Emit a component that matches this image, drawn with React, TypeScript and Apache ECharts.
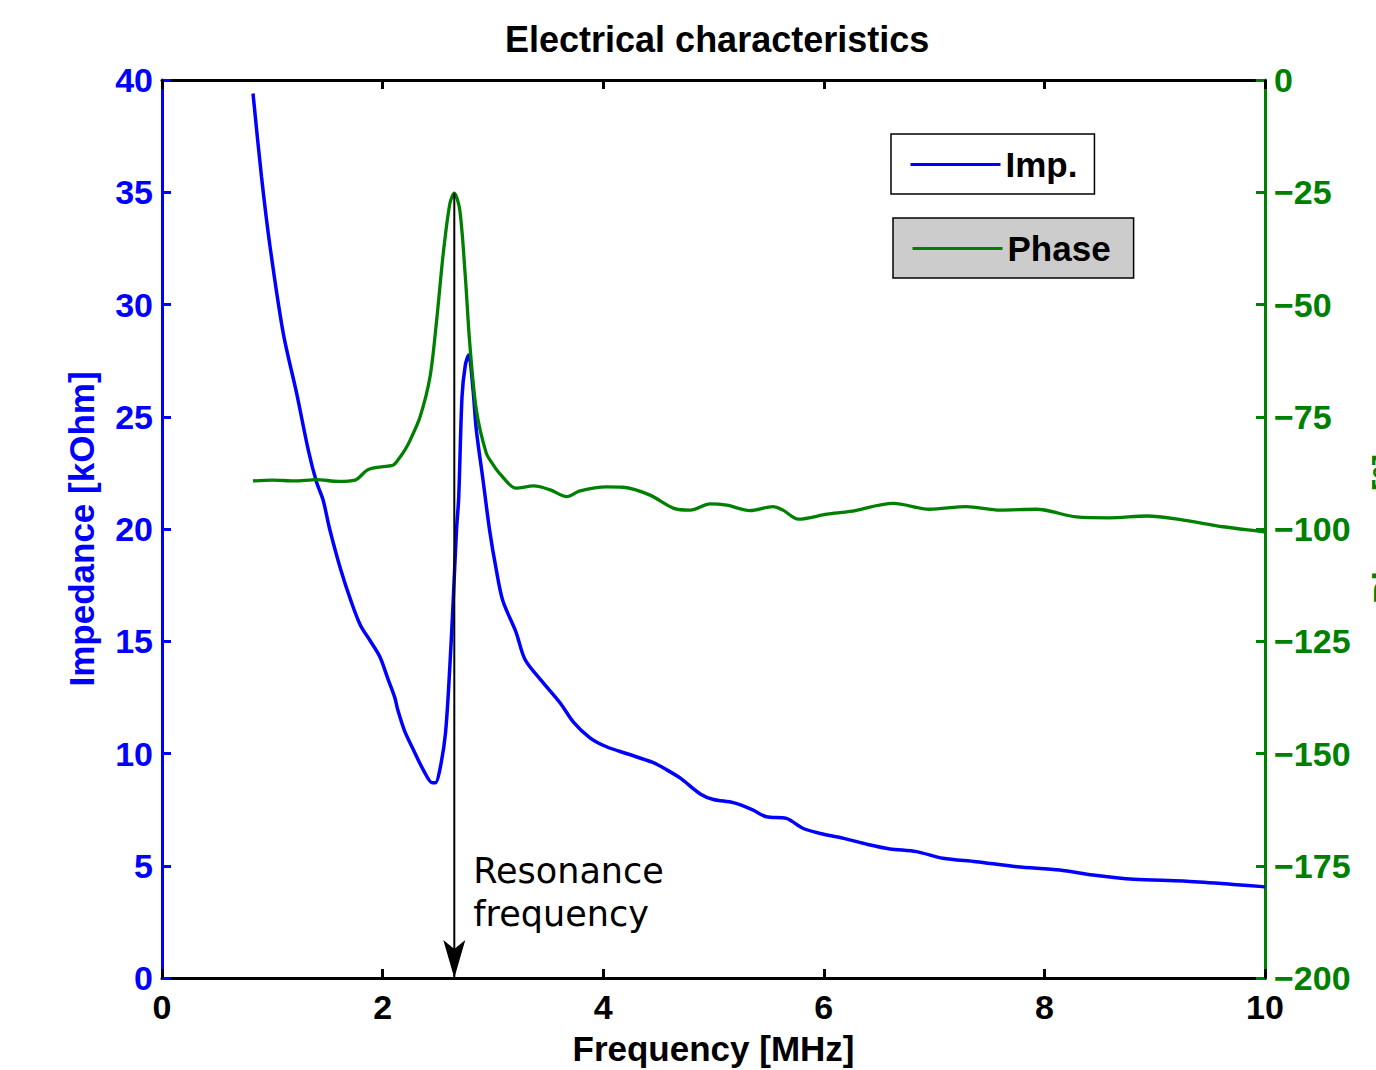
import React, { useEffect, useRef } from "react";
import * as echarts from "echarts";

const impFreq = [0.825, 0.902, 0.979, 1.1, 1.22, 1.327, 1.4, 1.46, 1.52, 1.62, 1.72, 1.8, 1.89, 1.976, 2.05, 2.11, 2.14, 2.2, 2.28, 2.37, 2.45, 2.48, 2.52, 2.57, 2.61, 2.64, 2.67, 2.69, 2.72, 2.75, 2.78, 2.82, 2.85, 2.91, 2.97, 3.03, 3.09, 3.21, 3.29, 3.43, 3.61, 3.73, 3.88, 4.03, 4.21, 4.45, 4.58, 4.7, 4.88, 5.0, 5.18, 5.35, 5.48, 5.66, 5.81, 6.0, 6.18, 6.4, 6.6, 6.84, 7.08, 7.38, 7.75, 8.14, 8.44, 8.81, 9.26, 9.71, 9.98, 10.0];
const impValue = [39.4, 35.7, 32.6, 28.7, 26.06, 23.5, 22.1, 21.3, 20.0, 18.2, 16.7, 15.7, 15.0, 14.3, 13.3, 12.5, 11.9, 11.0, 10.16, 9.26, 8.7, 8.7, 9.3, 10.9, 13.9, 16.8, 19.95, 21.4, 25.9, 27.3, 27.75, 26.2, 24.4, 22.2, 19.95, 18.2, 16.8, 15.4, 14.2, 13.3, 12.25, 11.4, 10.7, 10.3, 10.0, 9.6, 9.26, 8.9, 8.2, 7.95, 7.81, 7.5, 7.18, 7.11, 6.67, 6.4, 6.22, 5.95, 5.75, 5.63, 5.33, 5.18, 4.96, 4.81, 4.59, 4.4, 4.32, 4.17, 4.07, 4.05];

const phaseFreq = [0.825, 1.0, 1.2, 1.4, 1.6, 1.75, 1.86, 1.95, 2.05, 2.1, 2.14, 2.2, 2.25, 2.34, 2.43, 2.49, 2.55, 2.61, 2.65, 2.7, 2.75, 2.79, 2.85, 2.94, 3.0, 3.06, 3.21, 3.37, 3.52, 3.67, 3.79, 4.03, 4.18, 4.42, 4.64, 4.79, 4.97, 5.12, 5.33, 5.54, 5.63, 5.77, 6.03, 6.24, 6.63, 6.96, 7.29, 7.6, 7.93, 8.29, 8.59, 8.93, 9.26, 9.62, 9.98, 10.0];
const phaseValue = [-89.3, -89.1, -89.3, -89.0, -89.4, -89.1, -86.9, -86.3, -86.0, -85.7, -84.6, -82.5, -80.2, -75.0, -66.1, -53.5, -38.6, -27.5, -25.2, -29.0, -43.8, -58.6, -73.5, -83.1, -85.6, -87.6, -90.9, -90.4, -91.3, -92.8, -91.5, -90.6, -90.7, -92.4, -95.4, -95.8, -94.4, -94.7, -95.9, -95.0, -95.8, -97.8, -96.7, -96.1, -94.3, -95.6, -95.0, -95.8, -95.6, -97.3, -97.5, -97.1, -98.0, -99.5, -100.6, -100.7];

const resonanceFreq = 2.65;
const resonancePhase = -25.2;

const xTicks = { min: 0, max: 10, interval: 2 };
const impTicks = { min: 0, max: 40, interval: 5 };
const phaseTicks = { min: -200, max: 0, interval: 25 };

const FONT = "'Liberation Sans', Arial, Helvetica, sans-serif";
const BLUE = "#0000ff";
const GREEN = "#008000";

export default function App() {
  const ref = useRef<HTMLDivElement>(null);
  useEffect(() => {
    if (!ref.current) return;
    const chart = echarts.init(ref.current, undefined, { renderer: "svg" });
    const impData = impFreq.map((f, i) => [f, impValue[i]]);
    const phaseData = phaseFreq.map((f, i) => [f, phaseValue[i]]);
    const boldText = (color: string, size: number) => ({
      color,
      fontFamily: FONT,
      fontWeight: "bold" as const,
      fontSize: size,
    });
    const legendBase = {
      itemWidth: 90,
      itemHeight: 16,
      itemGap: 10,
      borderColor: "#000000",
      borderWidth: 1.5,
      borderRadius: 0,
      itemStyle: { opacity: 0 },
      lineStyle: { width: 3 },
      textStyle: boldText("#000", 35),
    };
    chart.setOption({
      animation: false,
      backgroundColor: "#ffffff",
      title: {
        text: "Electrical characteristics",
        left: 500,
        top: 16,
        textStyle: boldText("#000", 36),
      },
      grid: {
        left: 162,
        right: 111,
        top: 80,
        bottom: 92,
        containLabel: false,
        outerBoundsMode: "none",
      },
      legend: [
        {
          ...legendBase,
          data: ["Imp."],
          left: 891,
          top: 134,
          padding: [13, 17, 12, 18],
          backgroundColor: "#ffffff",
        },
        {
          ...legendBase,
          data: ["Phase"],
          left: 893,
          top: 218,
          padding: [13, 23, 12, 18],
          backgroundColor: "#cccccc",
        },
      ],
      xAxis: [
        {
          type: "value",
          position: "bottom",
          ...xTicks,
          name: "Frequency [MHz]",
          nameLocation: "middle",
          nameGap: 53,
          nameTextStyle: boldText("#000", 35),
          axisLine: { show: true, onZero: false, lineStyle: { color: "#000", width: 3 } },
          axisTick: { show: true, inside: true, length: 9, lineStyle: { color: "#000", width: 3 } },
          axisLabel: { show: true, margin: 12, ...boldText("#000", 34) },
          splitLine: { show: false },
        },
        {
          type: "value",
          position: "top",
          ...xTicks,
          axisLine: { show: true, onZero: false, lineStyle: { color: "#000", width: 3 } },
          axisTick: { show: true, inside: true, length: 9, lineStyle: { color: "#000", width: 3 } },
          axisLabel: { show: false },
          splitLine: { show: false },
        },
      ],
      yAxis: [
        {
          type: "value",
          position: "left",
          ...impTicks,
          name: "Impedance [kOhm]",
          nameLocation: "middle",
          nameGap: 63,
          nameTextStyle: boldText(BLUE, 35),
          axisLine: { show: true, onZero: false, lineStyle: { color: BLUE, width: 3 } },
          axisTick: { show: true, inside: true, length: 9, lineStyle: { color: BLUE, width: 3 } },
          axisLabel: { show: true, margin: 9, ...boldText(BLUE, 34) },
          splitLine: { show: false },
        },
        {
          type: "value",
          position: "right",
          ...phaseTicks,
          name: "Phase [°]",
          nameLocation: "middle",
          nameGap: 103,
          nameTextStyle: boldText(GREEN, 35),
          axisLine: { show: true, onZero: false, lineStyle: { color: GREEN, width: 3 } },
          axisTick: { show: true, inside: true, length: 9, lineStyle: { color: GREEN, width: 3 } },
          axisLabel: {
            show: true,
            margin: 9,
            ...boldText(GREEN, 34),
            formatter: (v: number) => (v < 0 ? "\u2212" + Math.abs(v) : String(v)),
          },
          splitLine: { show: false },
        },
      ],
      series: [
        {
          name: "Imp.",
          type: "line",
          xAxisIndex: 0,
          yAxisIndex: 0,
          data: impData,
          symbol: "none",
          smooth: 0.3,
          lineStyle: { color: BLUE, width: 3.5 },
          itemStyle: { color: BLUE },
          silent: true,
          z: 3,
        },
        {
          name: "Phase",
          type: "line",
          xAxisIndex: 0,
          yAxisIndex: 1,
          data: phaseData,
          symbol: "none",
          smooth: 0.3,
          lineStyle: { color: GREEN, width: 3.3 },
          itemStyle: { color: GREEN },
          silent: true,
          z: 3,
        },
        {
          name: "arrowLine",
          type: "line",
          xAxisIndex: 0,
          yAxisIndex: 1,
          data: [
            [resonanceFreq, resonancePhase],
            [resonanceFreq, phaseTicks.min],
          ],
          symbol: "none",
          lineStyle: { color: "#000", width: 2 },
          silent: true,
          z: 4,
        },
        {
          name: "arrowHead",
          type: "scatter",
          xAxisIndex: 0,
          yAxisIndex: 1,
          data: [[resonanceFreq, phaseTicks.min]],
          symbol: "path://M0,0 L11,9 L22,0 L11,38 Z",
          symbolSize: [22, 38],
          symbolOffset: [0, -19],
          itemStyle: { color: "#000", opacity: 1 },
          silent: true,
          z: 5,
          label: {
            show: true,
            position: [30, -91],
            align: "left",
            verticalAlign: "top",
            formatter: "Resonance\nfrequency",
            color: "#000000",
            opacity: 1,
            textBorderWidth: 0,
            fontFamily: "'DejaVu Sans', sans-serif",
            fontSize: 35,
            lineHeight: 43,
          },
        },
      ],
    });
    return () => chart.dispose();
  }, []);
  return (
    <div
      ref={ref}
      style={{ position: "fixed", left: 0, top: 0, width: 1376, height: 1070, background: "#fff" }}
    />
  );
}
